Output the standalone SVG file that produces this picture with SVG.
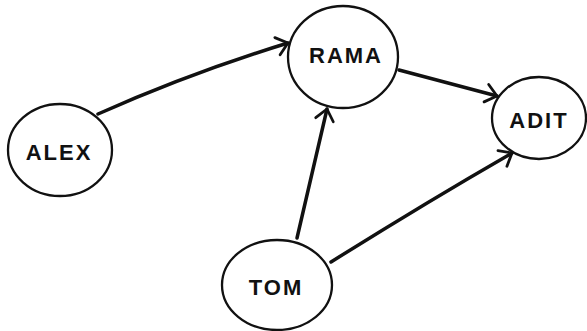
<svg xmlns="http://www.w3.org/2000/svg" width="587" height="331" viewBox="0 0 587 331">
<style>
.node{fill:#fff;stroke:#111;stroke-width:2.3}
.lbl{font-family:"Liberation Sans",Arial,sans-serif;font-weight:bold;font-size:22px;fill:#111;text-anchor:middle;letter-spacing:2px}
.edge{fill:none;stroke:#111;stroke-width:3.5;stroke-linecap:round}
</style>
<defs>
<marker id="arr" markerUnits="userSpaceOnUse" markerWidth="24" markerHeight="24" refX="16" refY="12" orient="auto">
<path d="M5,3 L16,12 L5,21" fill="none" stroke="#111" stroke-width="2.8" stroke-linecap="round" stroke-linejoin="round"/>
</marker>
</defs>
<g id="connectors">
<path class="edge" d="M98,114 Q190,73 288,43" marker-end="url(#arr)"/>
<path class="edge" d="M399,70 L497,96" marker-end="url(#arr)"/>
<path class="edge" d="M297,238 L327,109" marker-end="url(#arr)"/>
<path class="edge" d="M331,262 Q425,203 512,153" marker-end="url(#arr)"/>
</g>
<g id="alex">
<ellipse class="node" cx="60" cy="150" rx="52" ry="46"/>
<text class="lbl" x="59" y="160">ALEX</text>
</g>
<g id="rama">
<ellipse class="node" cx="343" cy="57" rx="55" ry="51"/>
<text class="lbl" x="346" y="63">RAMA</text>
</g>
<g id="adit">
<ellipse class="node" cx="539" cy="118" rx="47" ry="41"/>
<text class="lbl" x="539" y="128">ADIT</text>
</g>
<g id="tom">
<ellipse class="node" cx="277" cy="285" rx="55" ry="45"/>
<text class="lbl" x="276" y="295">TOM</text>
</g>
</svg>
